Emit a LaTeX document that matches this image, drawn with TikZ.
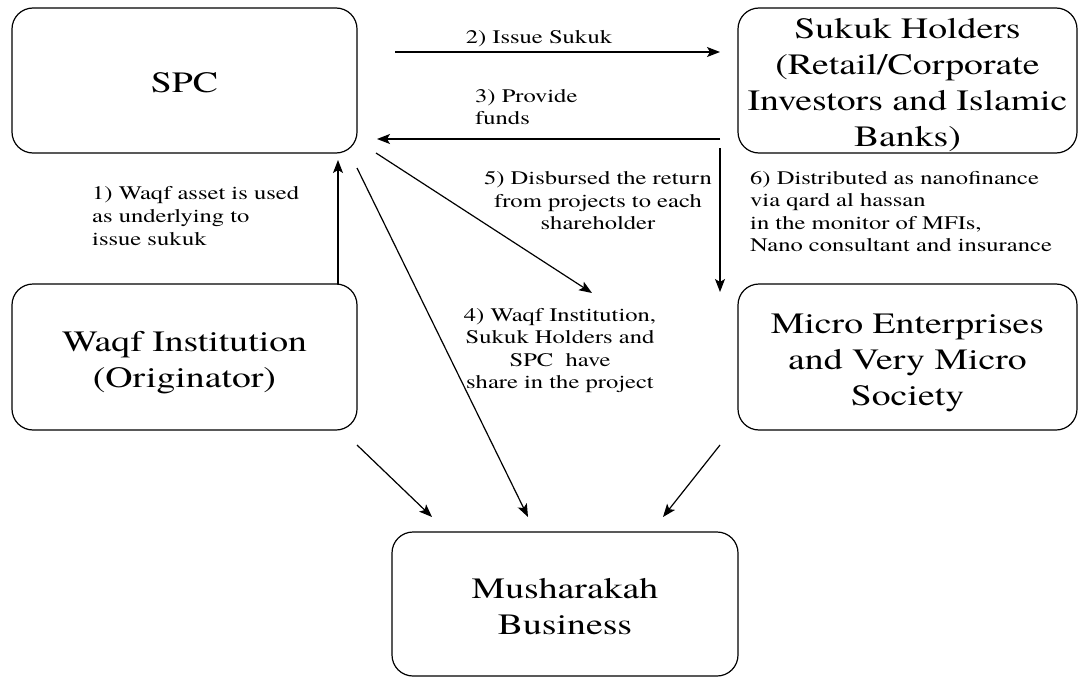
\documentclass[tikz,border=0pt]{standalone}
\usepackage{fontspec}
\usepackage{graphicx}
\setmainfont{texgyretermes}[Extension=.otf, UprightFont=*-regular, BoldFont=*-bold, ItalicFont=*-italic, BoldItalicFont=*-bolditalic]
\usetikzlibrary{arrows.meta}
\newcommand{\boxfont}{\fontsize{29.5}{36}\selectfont}
\newcommand{\notefont}{\fontsize{19.2}{22.6}\selectfont}
% text set a little wider than the font's natural width
\newcommand{\widetext}[2]{\scalebox{1.28}[1]{\begin{tabular}{@{}#1@{}}#2\end{tabular}}}
% box text, set slightly below the box centre
\newcommand{\boxtext}[1]{\raisebox{0pt}[\height][\dimexpr\depth-10pt\relax]{\widetext{c}{#1}}}
\begin{document}
\begin{tikzpicture}[x=1pt,y=-1pt,
  party/.style={draw, line width=1.2pt, rounded corners=21pt, inner sep=0pt,
    align=center, font=\boxfont},
  flow/.style={line width=1.2pt, -{Stealth[length=13pt,width=10pt,inset=3pt]}},
  note/.style={inner sep=0pt, font=\notefont}]
\useasboundingbox (0,0) rectangle (1079,677);

% parties
\node[party, minimum width=345pt, minimum height=145pt] (spc) at (184.5,80.5)
  {\boxtext{SPC}};
\node[party, minimum width=339pt, minimum height=145pt] (sukuk) at (907.5,80.5)
  {\boxtext{Sukuk Holders\\(Retail/Corporate\\Investors and Islamic\\Banks)}};
\node[party, minimum width=345pt, minimum height=146pt] (waqf) at (184.5,357)
  {\boxtext{Waqf Institution\\(Originator)}};
\node[party, minimum width=339pt, minimum height=146pt] (micro) at (907.5,357)
  {\boxtext{Micro Enterprises\\and Very Micro\\Society}};
\node[party, minimum width=346pt, minimum height=144pt] (mush) at (565,604)
  {\boxtext{Musharakah\\Business}};

% connector end points
\coordinate (w1a) at (338,284);
\coordinate (w1b) at (338,160);
\coordinate (i2a) at (395,52);
\coordinate (i2b) at (720,52);
\coordinate (f3a) at (720,139);
\coordinate (f3b) at (377,139);
\coordinate (d5a) at (376,153);
\coordinate (d5b) at (592,293);
\coordinate (n6a) at (720,148);
\coordinate (n6b) at (720,292);
\coordinate (s4a) at (357,168);
\coordinate (s4b) at (528,517);
\coordinate (wma) at (357,445);
\coordinate (wmb) at (432,517);
\coordinate (mma) at (720,445);
\coordinate (mmb) at (663,517);

% flows
\draw[flow] (w1a) -- (w1b);
\draw[flow] (i2a) -- (i2b);
\draw[flow] (f3a) -- (f3b);
\draw[flow] (d5a) -- (d5b);
\draw[flow] (n6a) -- (n6b);
\draw[flow] (s4a) -- (s4b);
\draw[flow] (wma) -- (wmb);
\draw[flow] (mma) -- (mmb);

% flow labels
\node[note, anchor=west] (l1) at (92,218)
  {\widetext{l}{1) Waqf asset is used\\as underlying to\\issue sukuk}};
\node[note] (l2) at (539,39) {\widetext{c}{2) Issue Sukuk}};
\node[note, anchor=west] (l3) at (475,109) {\widetext{l}{3) Provide\\funds}};
\node[note] (l5) at (598,202.5)
  {\widetext{c}{5) Disbursed the return\\from projects to each\\shareholder}};
\node[note, anchor=west] (l6) at (750,213.5)
  {\widetext{l}{6) Distributed as nanofinance\\via qard al hassan\\in the monitor of MFIs,\\Nano consultant and insurance}};
\node[note] (l4) at (560,350.5)
  {\widetext{c}{4) Waqf Institution,\\Sukuk Holders and\\SPC\ \ have\\share in the project}};
\end{tikzpicture}
\end{document}
